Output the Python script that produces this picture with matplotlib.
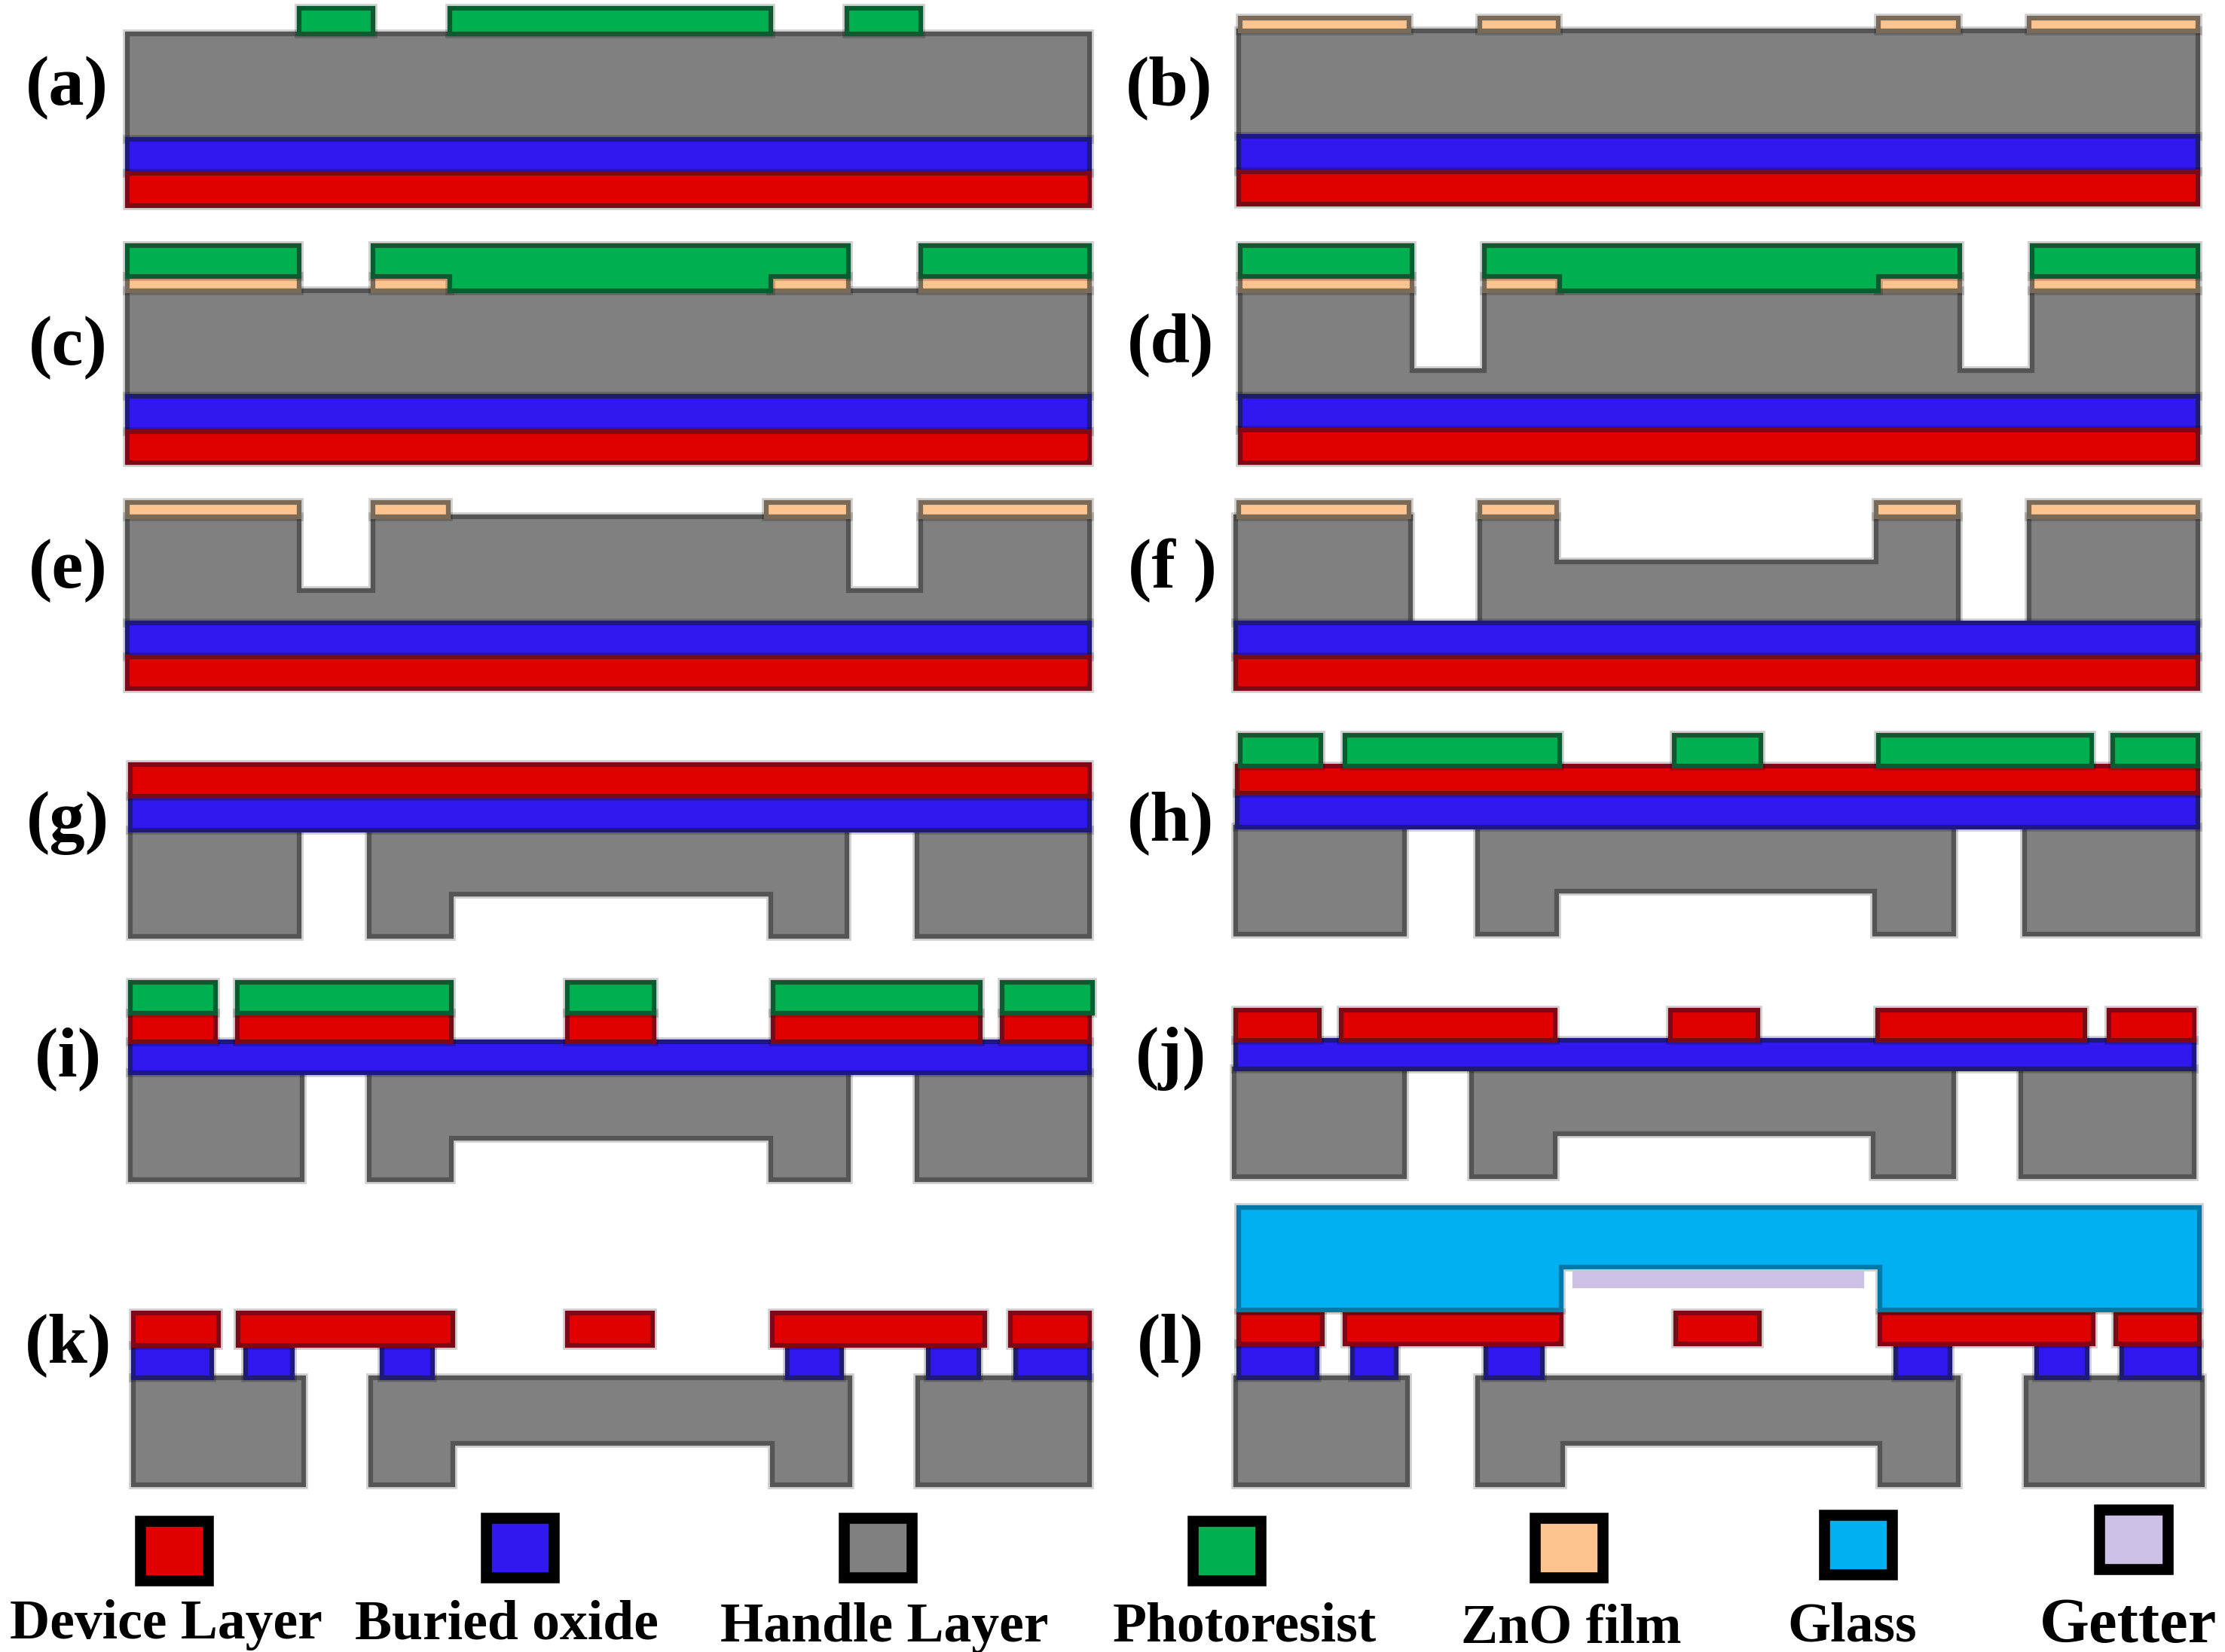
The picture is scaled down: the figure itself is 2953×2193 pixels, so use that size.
import matplotlib
matplotlib.use("Agg")
import matplotlib.pyplot as plt
import matplotlib.patheffects as pe
from matplotlib.patches import Polygon, Rectangle

plt.rcParams['font.family'] = ['Liberation Serif', 'DejaVu Sans']

# all coordinates below are picture units, 1568 x 1164
W, H = 1568, 1164

GRAY = '#808080'
BLUE = '#3018ee'
RED = '#e10000'
GREEN = '#00b050'
PEACH = '#fdc48f'
CYAN = '#00b0f0'
LILAC = '#ccc0e4'

EDGES = {GRAY: '#555555', BLUE: '#1e1a78', RED: '#7c0a16', GREEN: '#0a5c30',
         PEACH: '#7a6a58', CYAN: '#0078a8', LILAC: '#ccc0e4'}


def rows(y0, y1, spans):
    return [[(a, y0), (b, y0), (b, y1), (a, y1)] for a, b in spans]


def notched(a, b, y0, y1, n0, n1, ny):
    # block with a cavity cut in from the bottom
    return [(a, y0), (b, y0), (b, y1), (n1, y1), (n1, ny), (n0, ny), (n0, y1), (a, y1)]


def trenched(a, b, y0, y1, t0, t1, ty, t2, t3):
    # block with two trenches cut in from the top
    return [(a, y0), (t0, y0), (t0, ty), (t1, ty), (t1, y0), (t2, y0), (t2, ty), (t3, ty),
            (t3, y0), (b, y0), (b, y1), (a, y1)]


def stepped(a, b, y0, y1, s0, s1, sy):
    # resist block that steps down between the ZnO pads
    return [(a, y0), (b, y0), (b, y1), (s1, y1), (s1, sy), (s0, sy), (s0, y1), (a, y1)]


# (a)
a_handle = rows(24, 98, [(90, 768)])
a_oxide = rows(98, 122, [(90, 768)])
a_device = rows(122, 145, [(90, 768)])
a_resist = rows(6, 24, [(211, 263), (317, 543), (597, 649)])

# (b)
b_zno = rows(13, 22, [(874, 993), (1043, 1098), (1324, 1380), (1430, 1549)])
b_handle = rows(22, 96, [(873, 1549)])
b_oxide = rows(96, 121, [(873, 1549)])
b_device = rows(121, 144, [(873, 1549)])

# (c)
c_resist = rows(173, 195, [(90, 211), (649, 768)]) + [stepped(263, 598, 173, 195, 317, 543, 205)]
c_zno = rows(195, 205, [(90, 211), (263, 317), (543, 598), (649, 768)])
c_handle = rows(205, 279, [(90, 768)])
c_oxide = rows(279, 304, [(90, 768)])
c_device = rows(304, 326, [(90, 768)])

# (d)
d_resist = rows(173, 195, [(874, 995), (1432, 1549)]) + [stepped(1046, 1381, 173, 195, 1099, 1324, 205)]
d_zno = rows(195, 205, [(874, 995), (1046, 1099), (1324, 1381), (1432, 1549)])
d_handle = [trenched(874, 1549, 205, 279, 995, 1046, 261, 1381, 1432)]
d_oxide = rows(279, 303, [(874, 1549)])
d_device = rows(303, 326, [(874, 1549)])

# (e)
e_zno = rows(354, 364, [(90, 211), (263, 316), (540, 598), (649, 768)])
e_handle = [trenched(90, 768, 364, 439, 211, 263, 416, 598, 649)]
e_oxide = rows(439, 463, [(90, 768)])
e_device = rows(463, 485, [(90, 768)])

# (f)
f_zno = rows(354, 364, [(873, 993), (1043, 1097), (1322, 1380), (1430, 1549)])
f_handle = rows(364, 439, [(871, 994), (1430, 1549)]) + [
    [(1043, 364), (1097, 364), (1097, 396), (1322, 396), (1322, 364), (1380, 364), (1380, 439), (1043, 439)]]
f_oxide = rows(439, 463, [(871, 1549)])
f_device = rows(463, 485, [(871, 1549)])

# (g)
g_device = rows(539, 561, [(92, 768)])
g_oxide = rows(561, 585, [(92, 768)])
g_handle = rows(585, 660, [(92, 211), (646, 768)]) + [notched(260, 597, 585, 660, 318, 543, 630)]

# (h)
h_resist = rows(518, 540, [(874, 931), (948, 1099), (1180, 1241), (1324, 1474), (1489, 1549)])
h_device = rows(540, 559, [(872, 1549)])
h_oxide = rows(559, 583, [(872, 1549)])
h_handle = rows(583, 658, [(871, 990), (1427, 1549)]) + [notched(1041, 1377, 583, 658, 1097, 1321, 628)]

# (i)
i_resist = rows(692, 714, [(92, 152), (167, 318), (400, 461), (545, 691), (706, 770)])
i_device = rows(714, 734, [(92, 152), (167, 318), (400, 461), (545, 691), (706, 768)])
i_oxide = rows(734, 756, [(92, 768)])
i_handle = rows(756, 831, [(92, 213), (646, 768)]) + [notched(260, 598, 756, 831, 318, 543, 802)]

# (j)
j_device = rows(712, 733, [(871, 930), (945, 1096), (1177, 1239), (1323, 1469), (1486, 1546)])
j_oxide = rows(733, 753, [(871, 1546)])
j_handle = rows(753, 829, [(870, 990), (1424, 1546)]) + [notched(1037, 1377, 753, 829, 1096, 1320, 799)]

# (k)
k_device = rows(925, 948, [(94, 154), (168, 319), (400, 460), (544, 694), (712, 768)])
k_oxide = rows(948, 971, [(94, 149), (173, 206), (269, 305), (555, 593), (654, 690), (716, 768)])
k_handle = rows(971, 1046, [(94, 214), (647, 768)]) + [notched(261, 599, 971, 1046, 319, 544, 1017)]

# (l)
l_glass = [notched(873, 1550, 851, 923, 1100, 1325, 893)]
l_getter = rows(896, 906, [(1110, 1312)])
l_device = rows(925, 947, [(873, 932), (948, 1100), (1181, 1240), (1325, 1475), (1491, 1550)])
l_oxide = rows(947, 971, [(873, 928), (953, 984), (1047, 1087), (1336, 1374), (1435, 1471), (1495, 1550)])
l_handle = rows(971, 1046, [(871, 992), (1428, 1552)]) + [notched(1041, 1380, 971, 1046, 1101, 1325, 1017)]

# bottom layers first, resist and film on top
LAYERS = [
    (GRAY, a_handle + b_handle + c_handle + d_handle + e_handle + f_handle
     + g_handle + h_handle + i_handle + j_handle + k_handle + l_handle),
    (BLUE, a_oxide + b_oxide + c_oxide + d_oxide + e_oxide + f_oxide
     + g_oxide + h_oxide + i_oxide + j_oxide + k_oxide + l_oxide),
    (RED, a_device + b_device + c_device + d_device + e_device + f_device
     + g_device + h_device + i_device + j_device + k_device + l_device),
    (PEACH, b_zno + c_zno + d_zno + e_zno + f_zno),
    (GREEN, a_resist + c_resist + d_resist + h_resist + i_resist),
    (CYAN, l_glass),
    (LILAC, l_getter),
]

panel_labels = ['(a)', '(b)', '(c)', '(d)', '(e)', '(f )', '(g)', '(h)', '(i)', '(j)', '(k)', '(l)']
panel_x = [47, 824, 48, 825, 48, 826, 48, 825, 48, 825, 48, 825]
panel_y = [62, 62, 245, 243, 402, 402, 580, 580, 746, 746, 948, 948]

legend_names = ['Device Layer', 'Buried oxide', 'Handle Layer', 'Photoresist', 'ZnO film', 'Glass', 'Getter']
legend_colors = [RED, BLUE, GRAY, GREEN, PEACH, CYAN, LILAC]
legend_box_x = [95, 339, 591, 837, 1078, 1282, 1476]
legend_box_y = [1068, 1066, 1066, 1068, 1066, 1064, 1060]
legend_text_x = [117, 357, 623, 877, 1107, 1305, 1500]
legend_text_y = [1145, 1145, 1147, 1147, 1148, 1147, 1146]
legend_text_size = [53, 53, 53, 53, 53, 53, 61]

fig = plt.figure(figsize=(29.53, 21.93), dpi=100)
ax = fig.add_axes([0, 0, 1, 1])
ax.set_xlim(0, W)
ax.set_ylim(H, 0)
ax.axis('off')

# soft rim around each layer, the source picture is a blurred scan
rim = [pe.Stroke(linewidth=8.5, foreground='#000000', alpha=0.18), pe.Normal()]

for color, shapes in LAYERS:
    for pts in shapes:
        patch = Polygon(pts, closed=True, facecolor=color, edgecolor=EDGES[color], linewidth=4.5, joinstyle='miter')
        if color != LILAC:
            patch.set_path_effects(rim)
        ax.add_patch(patch)

for label, x, y in zip(panel_labels, panel_x, panel_y):
    ax.text(x, y, label, fontsize=68, fontweight='bold', ha='center', va='center')

for i in range(len(legend_names)):
    ax.add_patch(Rectangle((legend_box_x[i] + 3.5, legend_box_y[i] + 3.5), 48, 42, facecolor=legend_colors[i],
                           edgecolor='black', linewidth=10.5))
    ax.text(legend_text_x[i], legend_text_y[i], legend_names[i], fontsize=legend_text_size[i], fontweight='bold',
            ha='center', va='center')

fig.savefig('out.png', dpi=100, facecolor='white')
